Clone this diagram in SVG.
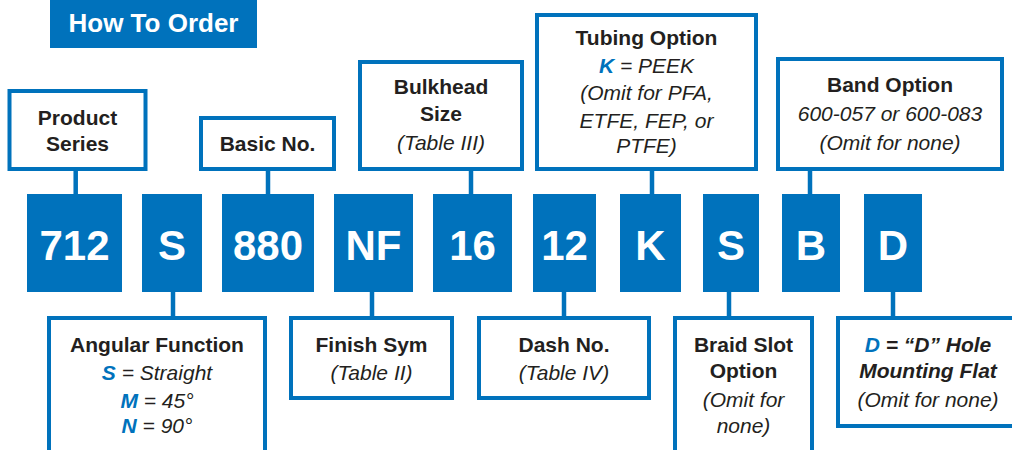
<svg xmlns="http://www.w3.org/2000/svg" width="1012" height="450" viewBox="0 0 1012 450">
<style>
.box{fill:#fff;stroke:#0072BC;stroke-width:4}
.code{fill:#0072BC}
.ct{font-family:"Liberation Sans",Arial,sans-serif;font-weight:bold;font-size:42px;fill:#fff;text-anchor:middle}
.b{font-family:"Liberation Sans",Arial,sans-serif;font-weight:bold;font-size:21px;fill:#231F20;text-anchor:middle}
.i{font-family:"Liberation Sans",Arial,sans-serif;font-style:italic;font-size:21px;fill:#231F20;text-anchor:middle}
.bl{fill:#0072BC;font-weight:bold;font-style:italic}
.bi{font-weight:bold;font-style:italic}
.conn line{stroke:#0072BC;stroke-width:4.5}
</style>
<rect x="0" y="0" width="1012" height="450" fill="#fff"/>
<g id="title">
<rect x="50" y="0" width="207" height="48" fill="#0072BC"/>
<text x="153.5" y="32" font-family="Liberation Sans,Arial,sans-serif" font-weight="bold" font-size="26" fill="#fff" text-anchor="middle">How To Order</text>
</g>
<g class="conn" id="connectors">
<line x1="75.7" y1="169" x2="75.7" y2="195"/>
<line x1="268" y1="169" x2="268" y2="195"/>
<line x1="471" y1="169" x2="471" y2="195"/>
<line x1="652" y1="169" x2="652" y2="195"/>
<line x1="810" y1="169" x2="810" y2="195"/>
<line x1="173" y1="291" x2="173" y2="318"/>
<line x1="372" y1="291" x2="372" y2="318"/>
<line x1="564" y1="291" x2="564" y2="318"/>
<line x1="729" y1="291" x2="729" y2="318"/>
<line x1="893" y1="291" x2="893" y2="318"/>
</g>
<g id="product-series">
<rect class="box" x="9.5" y="91" width="136" height="78"/>
<text class="b" x="77.5" y="125">Product</text>
<text class="b" x="77.5" y="151">Series</text>
</g>
<g id="basic-no">
<rect class="box" x="201" y="118" width="133" height="51"/>
<text class="b" x="267.5" y="151">Basic No.</text>
</g>
<g id="bulkhead-size">
<rect class="box" x="360" y="62" width="162" height="107"/>
<text class="b" x="441" y="94">Bulkhead</text>
<text class="b" x="441" y="121">Size</text>
<text class="i" x="441" y="150">(Table III)</text>
</g>
<g id="tubing-option">
<rect class="box" x="537" y="15" width="219" height="154"/>
<text class="b" x="646.5" y="45">Tubing Option</text>
<text class="i" x="646.5" y="73"><tspan class="bl">K</tspan> = PEEK</text>
<text class="i" x="646.5" y="100">(Omit for PFA,</text>
<text class="i" x="646.5" y="128">ETFE, FEP, or</text>
<text class="i" x="646.5" y="153">PTFE)</text>
</g>
<g id="band-option">
<rect class="box" x="778" y="59" width="224" height="110"/>
<text class="b" x="890" y="92">Band Option</text>
<text class="i" x="890" y="121">600-057 or 600-083</text>
<text class="i" x="890" y="150">(Omit for none)</text>
</g>
<g id="code-712"><rect class="code" x="27" y="194" width="95" height="98"/><text class="ct" x="74.5" y="260">712</text></g>
<g id="code-S1"><rect class="code" x="142" y="194" width="60" height="98"/><text class="ct" x="172" y="260">S</text></g>
<g id="code-880"><rect class="code" x="222" y="194" width="92" height="98"/><text class="ct" x="268" y="260">880</text></g>
<g id="code-NF"><rect class="code" x="334" y="194" width="79" height="98"/><text class="ct" x="373.5" y="260">NF</text></g>
<g id="code-16"><rect class="code" x="433" y="194" width="79" height="98"/><text class="ct" x="472.5" y="260">16</text></g>
<g id="code-12"><rect class="code" x="533" y="194" width="63" height="98"/><text class="ct" x="564.5" y="260">12</text></g>
<g id="code-K"><rect class="code" x="620" y="194" width="61" height="98"/><text class="ct" x="650.5" y="260">K</text></g>
<g id="code-S2"><rect class="code" x="703" y="194" width="56" height="98"/><text class="ct" x="731" y="260">S</text></g>
<g id="code-B"><rect class="code" x="782" y="194" width="58" height="98"/><text class="ct" x="811" y="260">B</text></g>
<g id="code-D"><rect class="code" x="864" y="194" width="58" height="98"/><text class="ct" x="893" y="260">D</text></g>
<g id="angular-function">
<rect class="box" x="49" y="318" width="216" height="150"/>
<text class="b" x="157" y="352">Angular Function</text>
<text class="i" x="157" y="380"><tspan class="bl">S</tspan> = Straight</text>
<text class="i" x="157" y="408"><tspan class="bl">M</tspan> = 45°</text>
<text class="i" x="157" y="433"><tspan class="bl">N</tspan> = 90°</text>
</g>
<g id="finish-sym">
<rect class="box" x="291" y="318" width="161" height="80"/>
<text class="b" x="371.5" y="352">Finish Sym</text>
<text class="i" x="371.5" y="380">(Table II)</text>
</g>
<g id="dash-no">
<rect class="box" x="479" y="318" width="170" height="80"/>
<text class="b" x="564" y="352">Dash No.</text>
<text class="i" x="564" y="380">(Table IV)</text>
</g>
<g id="braid-slot">
<rect class="box" x="675" y="318" width="137" height="150"/>
<text class="b" x="743.5" y="352">Braid Slot</text>
<text class="b" x="743.5" y="378">Option</text>
<text class="i" x="743.5" y="407">(Omit for</text>
<text class="i" x="743.5" y="433">none)</text>
</g>
<g id="d-hole">
<rect class="box" x="838" y="318" width="190" height="108"/>
<text class="i" x="928" y="352"><tspan class="bl">D</tspan><tspan class="bi"> = “D” Hole</tspan></text>
<text class="i bi" x="928" y="378" font-weight="bold">Mounting Flat</text>
<text class="i" x="928" y="407">(Omit for none)</text>
</g>
</svg>
